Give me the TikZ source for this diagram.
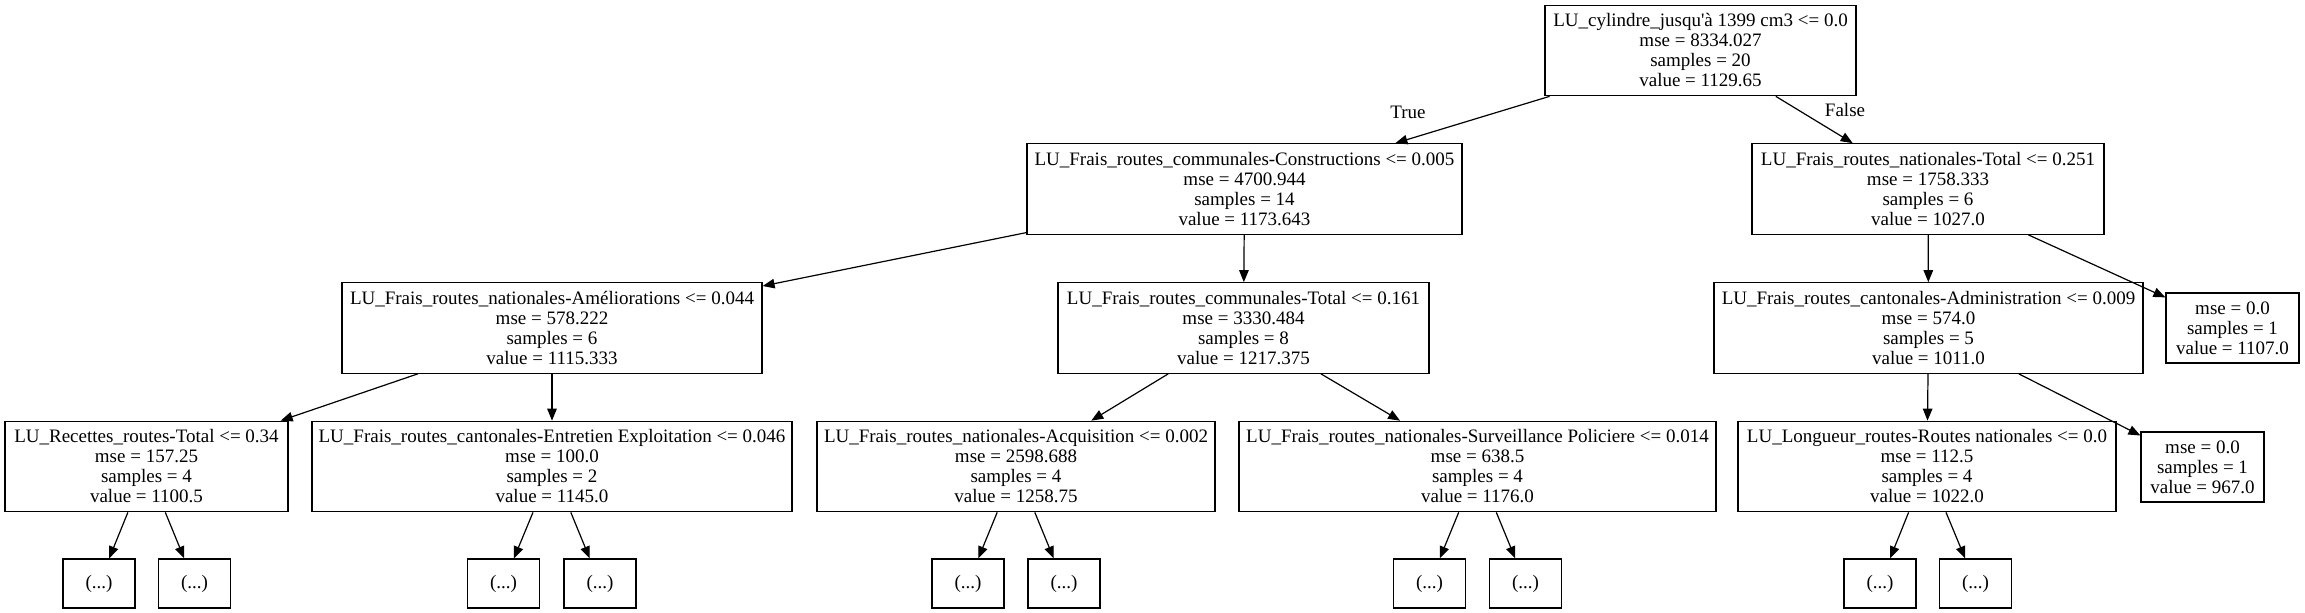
\documentclass[tikz,border=0pt]{standalone}
\usepackage{fontspec}
\setmainfont{Liberation Serif}
\usetikzlibrary{arrows.meta}
\begin{document}
\begin{tikzpicture}[x=1pt,y=-1pt,
  every node/.style={font=\fontsize{19}{20}\selectfont},
  box/.style={draw=black, line width=1.2pt, rectangle, inner sep=0pt, align=center, minimum height=90.5pt},
  leafbox/.style={draw=black, line width=1.2pt, rectangle, inner sep=0pt, align=center, minimum height=70pt},
  dotbox/.style={draw=black, line width=1.2pt, rectangle, inner sep=0pt, minimum width=72pt, minimum height=49pt},
  edge/.style={line width=1.2pt, -{Triangle[length=12pt, width=9.5pt]}},
  lbl/.style={inner sep=0pt}
]
\useasboundingbox (0,0) rectangle (2305,613);

% level 0
\node[box, minimum width=311pt] (root) at (1700.5,50.5) {LU\_cylindre\_jusqu\textquotesingle à 1399 cm3 <= 0.0\\mse = 8334.027\\samples = 20\\value = 1129.65};

% level 1
\node[box, minimum width=435pt] (cons) at (1244.5,189) {LU\_Frais\_routes\_communales-Constructions <= 0.005\\mse = 4700.944\\samples = 14\\value = 1173.643};
\node[box, minimum width=352pt] (natT) at (1928,189) {LU\_Frais\_routes\_nationales-Total <= 0.251\\mse = 1758.333\\samples = 6\\value = 1027.0};

% level 2
\node[box, minimum width=420pt] (amel) at (552,328) {LU\_Frais\_routes\_nationales-Améliorations <= 0.044\\mse = 578.222\\samples = 6\\value = 1115.333};
\node[box, minimum width=371pt] (comT) at (1243.5,328) {LU\_Frais\_routes\_communales-Total <= 0.161\\mse = 3330.484\\samples = 8\\value = 1217.375};
\node[box, minimum width=429pt] (admin) at (1928.5,328) {LU\_Frais\_routes\_cantonales-Administration <= 0.009\\mse = 574.0\\samples = 5\\value = 1011.0};
\node[leafbox, minimum width=133pt] (leafA) at (2232.5,328) {mse = 0.0\\samples = 1\\value = 1107.0};

% level 3
\node[box, minimum width=283pt] (rec) at (146.5,466.5) {LU\_Recettes\_routes-Total <= 0.34\\mse = 157.25\\samples = 4\\value = 1100.5};
\node[box, minimum width=480pt] (entr) at (552,466.5) {LU\_Frais\_routes\_cantonales-Entretien Exploitation <= 0.046\\mse = 100.0\\samples = 2\\value = 1145.0};
\node[box, minimum width=398pt] (acq) at (1016,466.5) {LU\_Frais\_routes\_nationales-Acquisition <= 0.002\\mse = 2598.688\\samples = 4\\value = 1258.75};
\node[box, minimum width=477pt] (surv) at (1477.5,466.5) {LU\_Frais\_routes\_nationales-Surveillance Policiere <= 0.014\\mse = 638.5\\samples = 4\\value = 1176.0};
\node[box, minimum width=378pt] (long) at (1927,466.5) {LU\_Longueur\_routes-Routes nationales <= 0.0\\mse = 112.5\\samples = 4\\value = 1022.0};
\node[leafbox, minimum width=123pt] (leafB) at (2202.5,467) {mse = 0.0\\samples = 1\\value = 967.0};

% level 4
\node[dotbox] (r1) at (99,583.5) {(...)};
\node[dotbox] (r2) at (194.5,583.5) {(...)};
\node[dotbox] (e1) at (503.5,583.5) {(...)};
\node[dotbox] (e2) at (600,583.5) {(...)};
\node[dotbox] (a1) at (968,583.5) {(...)};
\node[dotbox] (a2) at (1064,583.5) {(...)};
\node[dotbox] (s1) at (1429.5,583.5) {(...)};
\node[dotbox] (s2) at (1525.5,583.5) {(...)};
\node[dotbox] (l1) at (1880,583.5) {(...)};
\node[dotbox] (l2) at (1975.5,583.5) {(...)};

% edges
\draw[edge] (root) -- (cons);
\draw[edge] (root) -- (natT);
\node[lbl] (ltrue) at (1408,112) {True};
\node[lbl] (lfalse) at (1845,110) {False};

\draw[edge] (cons) -- (amel);
\draw[edge] (cons) -- (comT);
\draw[edge] (natT) -- (admin);
\draw[edge] (natT) -- (leafA);

\draw[edge] (amel) -- (rec);
\draw[edge] (amel) -- (entr);
\draw[edge] (comT) -- (acq);
\draw[edge] (comT) -- (surv);
\draw[edge] (admin) -- (long);
\draw[edge] (admin) -- (leafB);

\draw[edge] (rec) -- (r1);
\draw[edge] (rec) -- (r2);
\draw[edge] (entr) -- (e1);
\draw[edge] (entr) -- (e2);
\draw[edge] (acq) -- (a1);
\draw[edge] (acq) -- (a2);
\draw[edge] (surv) -- (s1);
\draw[edge] (surv) -- (s2);
\draw[edge] (long) -- (l1);
\draw[edge] (long) -- (l2);
\end{tikzpicture}
\end{document}
